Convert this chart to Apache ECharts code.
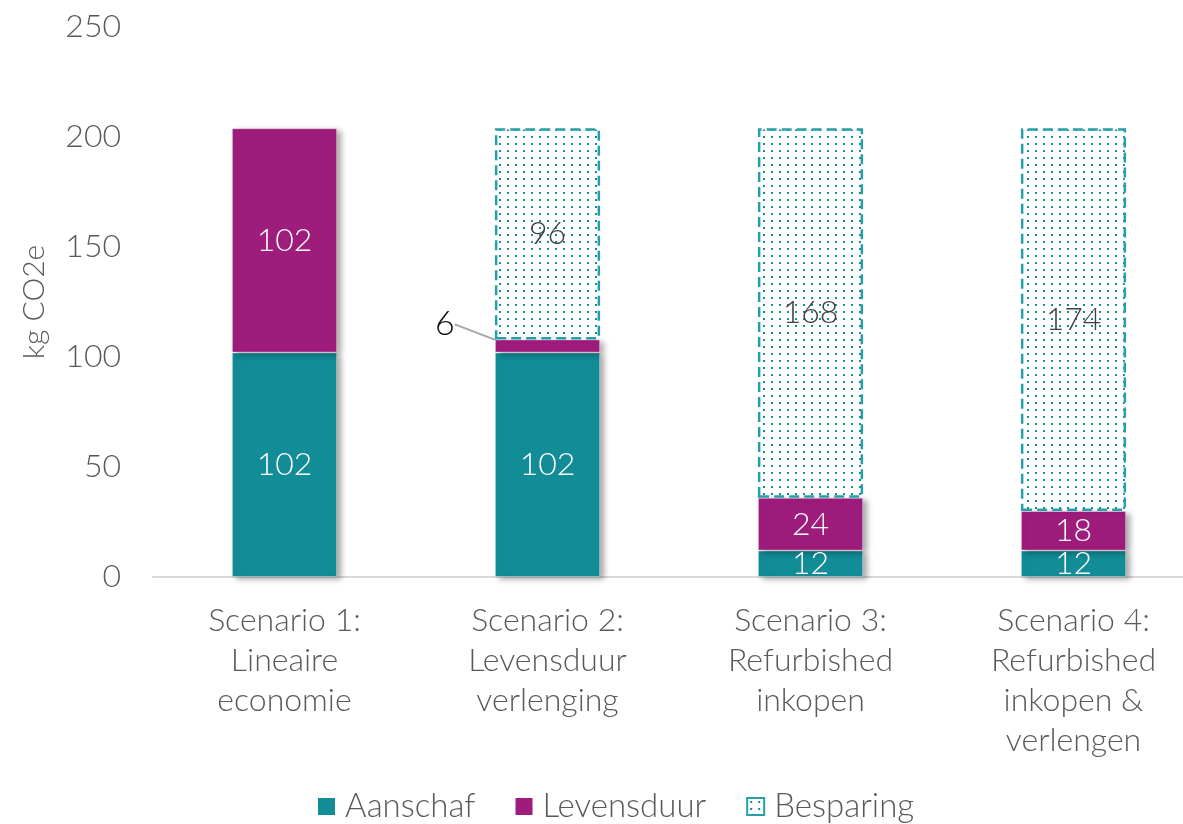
<!DOCTYPE html>
<html>
<head>
<meta charset="utf-8">
<script src="https://cdn.jsdelivr.net/npm/echarts@6/dist/echarts.min.js"></script>
<style>
html, body { margin: 0; padding: 0; background: #fff; }
#main { width: 1183px; height: 824px; }
</style>
</head>
<body>
<div id="main"></div>
<script>
var categories = ['Scenario 1:\nLineaire\neconomie', 'Scenario 2:\nLevensduur\nverlenging', 'Scenario 3:\nRefurbished\ninkopen', 'Scenario 4:\nRefurbished\ninkopen &\nverlengen'];
var aanschaf = [102, 102, 12, 12];
var levensduur = [102, 6, 24, 18];
var besparing = [null, 96, 168, 174];

var teal = '#128c97';
var purple = '#9e1c7c';
var grey = '#595959';
var font = 'Lato';

// dotted fill for the Besparing bars
function dotPattern() {
    var c = document.createElement('canvas');
    c.width = 8;
    c.height = 7;
    var ctx = c.getContext('2d');
    ctx.fillStyle = '#ffffff';
    ctx.fillRect(0, 0, 8, 7);
    ctx.fillStyle = teal;
    ctx.fillRect(3, 3, 2, 2);
    return c;
}

var solidStyle = function (color) {
    return {
        color: color,
        borderColor: 'rgba(255,255,255,0.35)',
        borderWidth: 1,
        shadowColor: 'rgba(0,0,0,0.35)',
        shadowBlur: 6,
        shadowOffsetX: 4,
        shadowOffsetY: 2
    };
};
var flat = { shadowBlur: 0, shadowOffsetX: 0, shadowOffsetY: 0, borderWidth: 0 };

var chart = echarts.init(document.getElementById('main'));
chart.setOption({
    animation: false,
    textStyle: { fontFamily: font, fontWeight: 300 },
    grid: {
        left: 153,
        right: -22,
        top: 27,
        bottom: 247,
        outerBoundsMode: 'none'
    },
    legend: {
        bottom: -4,
        left: 313,
        icon: 'rect',
        itemWidth: 17,
        itemHeight: 17,
        itemGap: 40,
        textStyle: { fontSize: 33, color: grey, fontFamily: font, fontWeight: 300, padding: [0, 0, 0, 5] },
        data: [
            { name: 'Aanschaf', itemStyle: flat },
            { name: 'Levensduur', itemStyle: flat },
            { name: 'Besparing' }
        ]
    },
    xAxis: {
        type: 'category',
        data: categories,
        axisLine: { lineStyle: { color: '#d9d9d9', width: 2 } },
        axisTick: { show: false },
        axisLabel: {
            fontSize: 32,
            color: grey,
            lineHeight: 40,
            margin: 24,
            fontFamily: font,
            fontWeight: 300
        }
    },
    yAxis: {
        type: 'value',
        min: 0,
        max: 250,
        interval: 50,
        name: 'kg CO2e',
        nameLocation: 'middle',
        nameGap: 104,
        nameTextStyle: { fontSize: 30, color: grey, fontFamily: font, fontWeight: 300 },
        axisLine: { show: false },
        axisTick: { show: false },
        splitLine: { show: false },
        axisLabel: { fontSize: 32, color: grey, margin: 32, fontFamily: font, fontWeight: 300 }
    },
    series: [
        {
            name: 'Aanschaf',
            type: 'bar',
            stack: 'total',
            barWidth: '40%',
            data: aanschaf,
            itemStyle: solidStyle(teal),
            label: { show: true, color: '#fff', fontSize: 32, fontFamily: font, fontWeight: 300 }
        },
        {
            name: 'Levensduur',
            type: 'bar',
            stack: 'total',
            data: levensduur.map(function (v, i) {
                if (i === 1) {
                    return { value: v, label: { color: '#0d0d0d', fontSize: 34 } };
                }
                return v;
            }),
            itemStyle: solidStyle(purple),
            label: { show: true, color: '#fff', fontSize: 32, fontFamily: font, fontWeight: 300 },
            labelLine: { show: true, lineStyle: { color: '#a6a6a6', width: 2 } },
            labelLayout: function (params) {
                if (params.dataIndex === 1) {
                    return {
                        x: params.rect.x - 50,
                        y: params.rect.y - 15,
                        align: 'center',
                        verticalAlign: 'middle'
                    };
                }
            }
        },
        {
            name: 'Besparing',
            type: 'bar',
            stack: 'total',
            data: besparing,
            itemStyle: {
                color: { image: dotPattern(), repeat: 'repeat' },
                borderColor: '#26a0a8',
                borderWidth: 2.5,
                borderType: [10, 5]
            },
            label: { show: true, color: '#404040', fontSize: 32, fontFamily: font, fontWeight: 300 }
        }
    ]
});
window.addEventListener('resize', function () {
    chart.resize();
});
</script>
</body>
</html>
